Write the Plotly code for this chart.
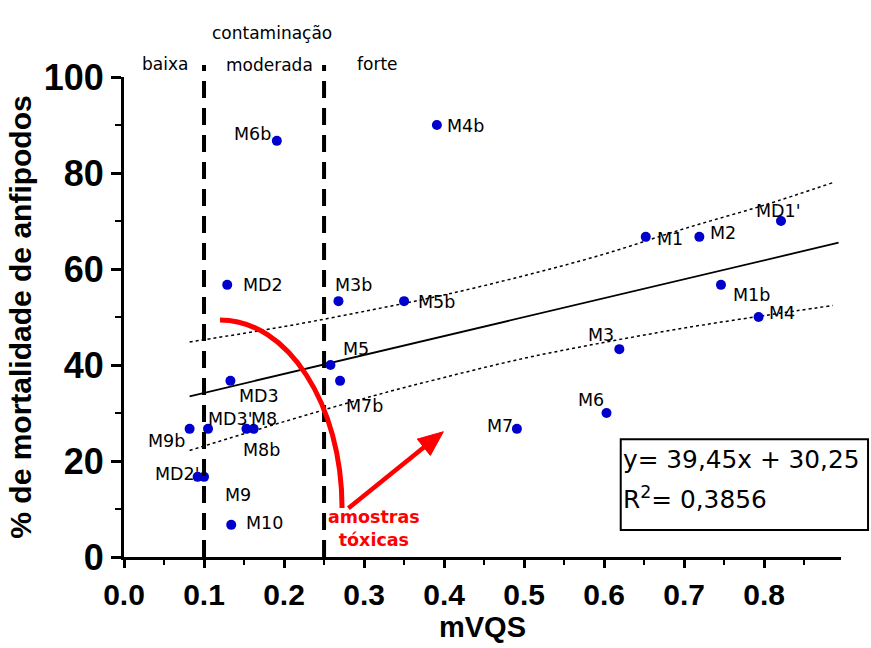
import plotly.graph_objects as go

# ---------------- data ----------------
sample_names = ["M6b", "M4b", "MD2", "M3b", "M5b", "M5", "M7b", "MD3", "M9b", "MD3'",
                "M8b", "M8", "MD2'", "M9", "M10", "M7", "M6", "M3", "M1", "M2",
                "MD1'", "M1b", "M4"]
mvqs = [0.191, 0.391, 0.129, 0.268, 0.350, 0.258, 0.270, 0.133, 0.082, 0.105,
        0.153, 0.162, 0.092, 0.100, 0.134, 0.491, 0.603, 0.619, 0.652, 0.719,
        0.821, 0.746, 0.793]
mortality = [86.7, 90.0, 56.7, 53.3, 53.3, 40.0, 36.7, 36.7, 26.7, 26.7,
             26.7, 26.7, 16.7, 16.7, 6.7, 26.7, 30.0, 43.3, 66.7, 66.7,
             70.0, 56.7, 50.0]

slope, intercept = 39.45, 30.25
fit_x = [0.082, 0.893]
equation_text = "y= 39,45x + 30,25"
r2_text = "R<sup>2</sup>= 0,3856"

band_x = [0.082, 0.2, 0.31, 0.4, 0.5, 0.6, 0.7, 0.8, 0.886]
band_upper = [44.8, 48.0, 51.5, 54.6, 58.6, 63.1, 68.4, 73.3, 78.0]
band_lower = [22.2, 28.2, 33.5, 37.4, 41.4, 44.7, 47.7, 50.3, 52.4]

thresholds = [0.1, 0.25]
zone_names = ["baixa", "moderada", "forte"]
zone_title = "contaminação"
toxic_label = "amostras<br>tóxicas"

x_tick_vals = [0.0, 0.1, 0.2, 0.3, 0.4, 0.5, 0.6, 0.7, 0.8]
y_tick_vals = [0, 20, 40, 60, 80, 100]

# ---------------- styling ----------------
# label offsets in screen pixels (dx right, dy down) relative to each point
label_offsets = {
    "M6b": (-24.7, -6.7), "M4b": (29, 1), "MD2": (36, 0), "M3b": (14.7, -16),
    "M5b": (32.4, 1.3), "M5": (26, -15.7), "M7b": (24.8, 25.4), "MD3": (28.7, 15.6),
    "M9b": (-23.5, 12.4), "MD3'": (22.5, -10), "M8b": (14.8, 20.7), "M8": (10.5, -10),
    "MD2'": (-19.7, -3.3), "M9": (34, 17.7), "M10": (33.3, -1.7), "M7": (-16.5, -2.6),
    "M6": (-16, -13), "M3": (-18, -14.3), "M1": (24, 2.3), "M2": (23.8, -3.4),
    "MD1'": (-2.7, -10), "M1b": (30.7, 10), "M4": (23.7, -4),
}
zone_label_x = [0.051, 0.1816, 0.3163]
zone_label_y = [1.0527, 1.0494, 1.0521]

NORMAL = "DejaVu Sans"
BOLD = "Liberation Sans, Arial"

fig = go.Figure()

# confidence band (dotted)
for band in (band_upper, band_lower):
    fig.add_trace(go.Scatter(x=band_x, y=band, mode="lines",
                             line=dict(color="black", width=1.5, dash="3px,3px", shape="spline"),
                             hoverinfo="skip", showlegend=False))

# regression line
fig.add_trace(go.Scatter(x=fit_x, y=[slope * v + intercept for v in fit_x], mode="lines",
                         line=dict(color="black", width=1.8), showlegend=False))

# points
fig.add_trace(go.Scatter(x=mvqs, y=mortality, mode="markers",
                         marker=dict(color="#0000cc", size=10),
                         text=sample_names, showlegend=False))

annotations = []
for name, xv, yv in zip(sample_names, mvqs, mortality):
    dx, dy = label_offsets[name]
    annotations.append(dict(x=xv, y=yv, xref="x", yref="y", text=name, showarrow=False,
                            xshift=dx, yshift=-dy,
                            font=dict(family=NORMAL, size=17.5, color="black")))

# zone labels
for name, zx, zy in zip(zone_names, zone_label_x, zone_label_y):
    annotations.append(dict(x=zx, y=zy, xref="x", yref="paper", text=name, showarrow=False,
                            font=dict(family=NORMAL, size=17, color="black")))
annotations.append(dict(x=0.1846, y=1.1173, xref="x", yref="paper", text=zone_title,
                        showarrow=False, font=dict(family=NORMAL, size=17, color="black")))

# equation box text
annotations.append(dict(x=0.6935, y=0.2031, xref="paper", yref="paper", text=equation_text,
                        xanchor="left", yanchor="middle", showarrow=False,
                        font=dict(family=NORMAL, size=24.8, color="black")))
annotations.append(dict(x=0.6935, y=0.1229, xref="paper", yref="paper", text=r2_text,
                        xanchor="left", yanchor="middle", showarrow=False,
                        font=dict(family=NORMAL, size=24.8, color="black")))

# red label
annotations.append(dict(x=0.3125, y=6.0, xref="x", yref="y", text=toxic_label,
                        showarrow=False,
                        font=dict(family="DejaVu Sans", size=17.5, color="#ff0000", weight="bold")))

shapes = []
for t in thresholds:
    shapes.append(dict(type="line", xref="x", yref="paper", x0=t, x1=t, y0=0, y1=1.025,
                       line=dict(color="black", width=4, dash="17px,10px")))

# curved red arc (quarter ellipse)
cx, cy, rx, ry, k = 0.12, 10.2, 0.1525, 39.2, 0.5523
arc = (f"M {cx},{cy + ry} C {cx + k * rx},{cy + ry} {cx + rx},{cy + k * ry} {cx + rx},{cy}")
shapes.append(dict(type="path", xref="x", yref="y", path=arc,
                   line=dict(color="#ff0000", width=5)))

# straight red arrow: shaft + head
shapes.append(dict(type="line", xref="x", yref="y", x0=0.2804, y0=10.15, x1=0.3760, y1=23.0,
                   line=dict(color="#ff0000", width=4.5)))
shapes.append(dict(type="path", xref="x", yref="y",
                   path="M 0.3991,26.10 L 0.3828,21.15 L 0.3665,24.56 Z",
                   fillcolor="#ff0000", line=dict(color="#ff0000", width=1)))

# equation box
shapes.append(dict(type="rect", xref="paper", yref="paper", x0=0.6928, x1=1.0377,
                   y0=0.05625, y1=0.2452, line=dict(color="black", width=2),
                   fillcolor="rgba(0,0,0,0)"))

fig.update_layout(
    width=871, height=648,
    margin=dict(l=124, r=30, t=77, b=91),
    plot_bgcolor="white", paper_bgcolor="white",
    annotations=annotations, shapes=shapes,
    showlegend=False,
)
fig.update_xaxes(
    range=[0, 0.896], tickvals=x_tick_vals, ticktext=[f"{v:.1f}" for v in x_tick_vals],
    showline=True, linecolor="black", linewidth=3, mirror=False,
    ticks="outside", ticklen=8, tickwidth=3, tickcolor="black",
    minor=dict(dtick=0.05, ticks="outside", ticklen=5, tickwidth=2, tickcolor="black"),
    showgrid=False, zeroline=False, automargin=False,
    tickfont=dict(family=BOLD, size=30, color="black", weight="bold"),
    ticklabelstandoff=1,
    title=dict(text="mVQS", font=dict(family=BOLD, size=29, color="black", weight="bold"),
               standoff=6),
)
fig.update_yaxes(
    range=[0, 100], tickvals=y_tick_vals,
    showline=True, linecolor="black", linewidth=3,
    ticks="outside", ticklen=10, tickwidth=3, tickcolor="black",
    minor=dict(dtick=10, ticks="outside", ticklen=6, tickwidth=2, tickcolor="black"),
    showgrid=False, zeroline=False, automargin=False,
    tickfont=dict(family=BOLD, size=36, color="black", weight="bold"),
    title=dict(text="% de mortalidade de anfipodos",
               font=dict(family=BOLD, size=30, color="black", weight="bold"), standoff=4),
)

fig.write_html("out.html")
